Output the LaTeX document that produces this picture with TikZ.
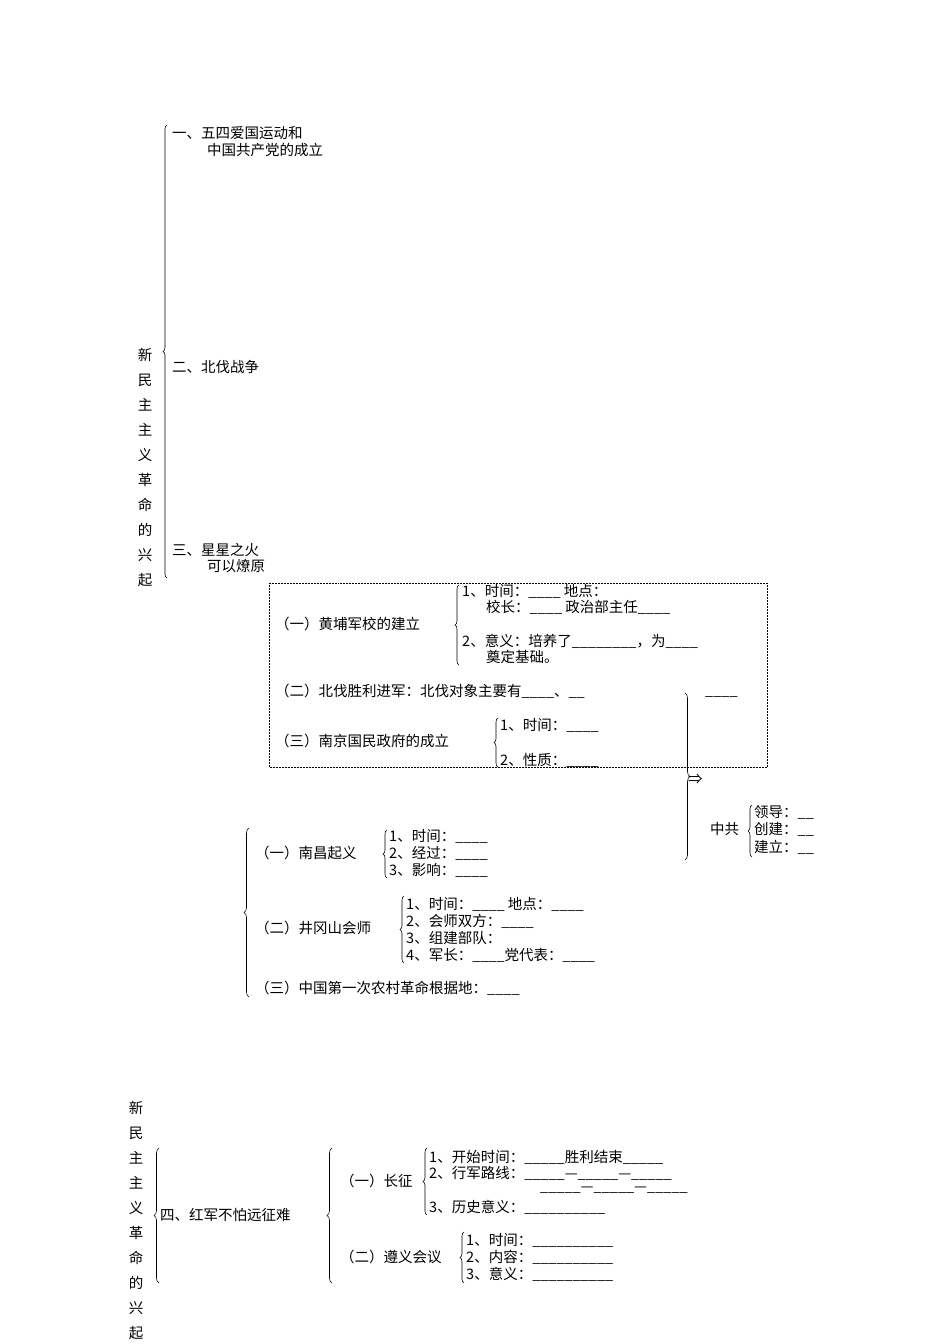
\documentclass[tikz,border=0pt]{standalone}
\usepackage{fontspec}
\setmainfont{Noto Sans CJK SC}
\usetikzlibrary{decorations.pathreplacing}
\begin{document}
\begin{tikzpicture}[x=1pt,y=-1pt,
  t/.style={anchor=west,inner sep=0pt,font=\fontsize{14.5}{16}\selectfont},
  v/.style={anchor=center,inner sep=0pt,font=\fontsize{14.5}{16}\selectfont},
  br/.style={decorate,decoration={brace,amplitude=4pt},line width=0.6pt}]
\useasboundingbox[fill=white] (0,0) rectangle (950,1344);
% top vertical title
\foreach \c [count=\i] in {新,民,主,主,义,革,命,的,兴,起}
  \node[v] (ta\i) at (145,{330+25*\i}) {\c};
\draw[br] (167,578) -- (167,125);
\node[t] (a1) at (172,133) {一、五四爱国运动和};
\node[t] (a1b) at (207,150) {中国共产党的成立};
\node[t] (a2) at (172,367) {二、北伐战争};
\node[t] (a3) at (172,550) {三、星星之火};
\node[t] (a3b) at (207,566) {可以燎原};
% dotted box
\draw[densely dotted,line width=0.5pt] (269,583) rectangle (767,767);
\node[t] (b1) at (275,624) {（一）黄埔军校的建立};
\draw[br] (459,665) -- (459,585);
\node[t] (b11) at (462,591) {1、时间：\_\_\_\_ 地点：};
\node[t] (b12) at (486,607) {校长：\_\_\_\_ 政治部主任\_\_\_\_};
\node[t] (b13) at (462,641) {2、意义：培养了\_\_\_\_\_\_\_\_，为\_\_\_\_};
\node[t] (b14) at (486,657) {奠定基础。};
\node[t] (b2) at (275,691) {（二）北伐胜利进军：北伐对象主要有\_\_\_\_、\_\_};
\node[t] (b2b) at (705,697) {\_\_\_\_};
\node[t] (b3) at (275,741) {（三）南京国民政府的成立};
\draw[br] (498,767) -- (498,718);
\node[t] (b31) at (500,725) {1、时间：\_\_\_\_};
\node[t] (b32) at (500,760) {2、性质：\_\_\_\_};
% right brace
\draw[br,decoration={brace,amplitude=5pt}] (685,693) -- (685,860);
\node[t] (arr) at (688,779) {⇒};
\node[t] (zg) at (710,829) {中共};
\draw[br] (752,857) -- (752,805);
\node[t] (z1) at (754,812) {领导：\_\_};
\node[t] (z2) at (754,829) {创建：\_\_};
\node[t] (z3) at (754,847) {建立：\_\_};
% middle block
\draw[br,decoration={brace,amplitude=5pt}] (249,997) -- (249,828);
\node[t] (c1) at (255,853) {（一）南昌起义};
\draw[br] (387,878) -- (387,830);
\node[t] (c11) at (389,836) {1、时间：\_\_\_\_};
\node[t] (c12) at (389,853) {2、经过：\_\_\_\_};
\node[t] (c13) at (389,870) {3、影响：\_\_\_\_};
\node[t] (c2) at (255,928) {（二）井冈山会师};
\draw[br] (404,963) -- (404,896);
\node[t] (c21) at (406,904) {1、时间：\_\_\_\_ 地点：\_\_\_\_};
\node[t] (c22) at (406,921) {2、会师双方：\_\_\_\_};
\node[t] (c23) at (406,938) {3、组建部队：};
\node[t] (c24) at (406,955) {4、军长：\_\_\_\_党代表：\_\_\_\_};
\node[t] (c3) at (255,988) {（三）中国第一次农村革命根据地：\_\_\_\_};
% bottom block
\foreach \c [count=\i] in {新,民,主,主,义,革,命,的,兴,起}
  \node[v] (tb\i) at (136,{1083+25*\i}) {\c};
\draw[br,decoration={brace,amplitude=5pt}] (159,1283) -- (159,1148);
\node[t] (d0) at (160,1215) {四、红军不怕远征难};
\draw[br,decoration={brace,amplitude=5pt}] (332,1283) -- (332,1148);
\node[t] (d1) at (340,1181) {（一）长征};
\draw[br] (427,1215) -- (427,1148);
\node[t] (d11) at (429,1157) {1、开始时间：\_\_\_\_\_胜利结束\_\_\_\_\_};
\node[t] (d12) at (429,1173) {2、行军路线：\_\_\_\_\_—\_\_\_\_\_—\_\_\_\_\_};
\node[t] (d12b) at (540,1190) {\_\_\_\_\_—\_\_\_\_\_—\_\_\_\_\_};
\node[t] (d13) at (429,1207) {3、历史意义：\_\_\_\_\_\_\_\_\_\_};
\node[t] (d2) at (340,1257) {（二）遵义会议};
\draw[br] (464,1283) -- (464,1232);
\node[t] (d21) at (466,1240) {1、时间：\_\_\_\_\_\_\_\_\_\_};
\node[t] (d22) at (466,1257) {2、内容：\_\_\_\_\_\_\_\_\_\_};
\node[t] (d23) at (466,1274) {3、意义：\_\_\_\_\_\_\_\_\_\_};
\end{tikzpicture}
\end{document}
